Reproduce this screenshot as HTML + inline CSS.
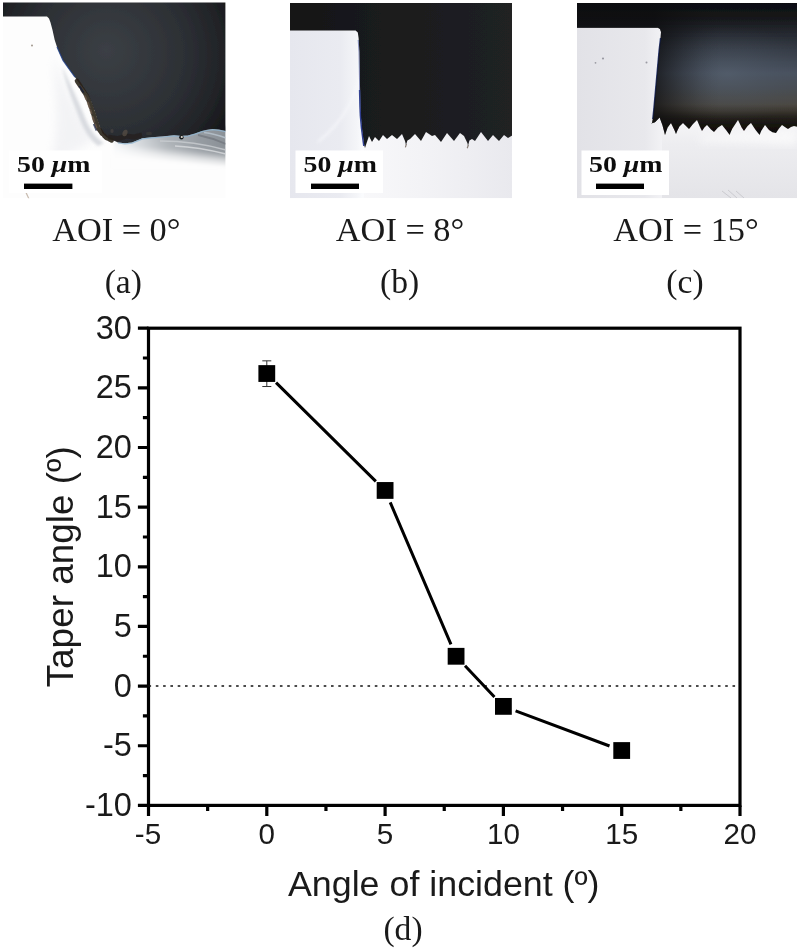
<!DOCTYPE html>
<html lang="en">
<head>
<meta charset="utf-8">
<title>Taper angle vs angle of incident</title>
<style>
  html, body { margin: 0; padding: 0; background: #ffffff; }
  body { width: 800px; height: 952px; overflow: hidden; position: relative; }
  svg { position: absolute; left: 0; top: 0; display: block; }
  .sans { font-family: "Liberation Sans", Arial, Helvetica, sans-serif; fill: #1a1a1a; }
  .serif { font-family: "Liberation Serif", "Times New Roman", Times, serif; fill: #1a1a1a; }
  .tick { font-size: 32.5px; }
  .title { font-size: 35.5px; }
  .cap { font-size: 33.6px; }
  .sb { font-family: "Liberation Serif", "Times New Roman", serif; font-weight: bold; font-size: 23px; fill: #111; }
</style>
</head>
<body>
<svg width="800" height="952" viewBox="0 0 800 952">
  <defs>
    <clipPath id="clipA"><rect x="3" y="2.6" width="222.4" height="195.6"/></clipPath>
    <clipPath id="clipB"><rect x="290" y="3" width="222" height="195.2"/></clipPath>
    <clipPath id="clipC"><rect x="577" y="3" width="220" height="195.2"/></clipPath>
    <filter id="soft" x="-5%" y="-5%" width="110%" height="110%"><feGaussianBlur stdDeviation="0.7"/></filter>
    <filter id="soft2" x="-10%" y="-10%" width="120%" height="120%"><feGaussianBlur stdDeviation="1.6"/></filter>
    <filter id="soft4" x="-20%" y="-20%" width="140%" height="140%"><feGaussianBlur stdDeviation="4"/></filter>
    <filter id="soft8" x="-30%" y="-30%" width="160%" height="160%"><feGaussianBlur stdDeviation="9"/></filter>
    <filter id="txtblur" x="-5%" y="-20%" width="110%" height="140%"><feGaussianBlur stdDeviation="0.45"/></filter>
    <radialGradient id="gA" gradientUnits="userSpaceOnUse" cx="112" cy="56" r="128" fx="106" fy="50">
      <stop offset="0" stop-color="#3b3f45"/>
      <stop offset="0.3" stop-color="#34383d"/>
      <stop offset="0.6" stop-color="#2c2f34"/>
      <stop offset="0.85" stop-color="#222428"/>
      <stop offset="1" stop-color="#18191c"/>
    </radialGradient>
    <linearGradient id="gAfloor" gradientUnits="userSpaceOnUse" x1="118" y1="0" x2="226" y2="0">
      <stop offset="0" stop-color="#eef1f4"/>
      <stop offset="0.2" stop-color="#d3d7db"/>
      <stop offset="0.45" stop-color="#aeb3b8"/>
      <stop offset="0.75" stop-color="#969ca2"/>
      <stop offset="1" stop-color="#8a9096"/>
    </linearGradient>
    <linearGradient id="gAfade" gradientUnits="userSpaceOnUse" x1="150" y1="139" x2="148" y2="160">
      <stop offset="0" stop-color="#fdfdfd" stop-opacity="0"/>
      <stop offset="0.35" stop-color="#fdfdfd" stop-opacity="0.1"/>
      <stop offset="0.7" stop-color="#fdfdfd" stop-opacity="0.7"/>
      <stop offset="1" stop-color="#fdfdfd" stop-opacity="1"/>
    </linearGradient>
    <linearGradient id="gB" gradientUnits="userSpaceOnUse" x1="290" y1="0" x2="512" y2="0">
      <stop offset="0" stop-color="#151517"/>
      <stop offset="0.5" stop-color="#1b1c1e"/>
      <stop offset="1" stop-color="#202123"/>
    </linearGradient>
    <linearGradient id="gBblock" gradientUnits="userSpaceOnUse" x1="290" y1="0" x2="362" y2="0">
      <stop offset="0" stop-color="#e6e7ee"/>
      <stop offset="0.7" stop-color="#eaebf1"/>
      <stop offset="0.93" stop-color="#f4f5f8"/>
      <stop offset="1" stop-color="#fafbfd"/>
    </linearGradient>
    <linearGradient id="gBfloor" gradientUnits="userSpaceOnUse" x1="360" y1="0" x2="512" y2="0">
      <stop offset="0" stop-color="#f8f8fa"/>
      <stop offset="0.4" stop-color="#f3f3f6"/>
      <stop offset="1" stop-color="#e9e9ee"/>
    </linearGradient>
    <linearGradient id="gC" gradientUnits="userSpaceOnUse" x1="0" y1="3" x2="0" y2="132">
      <stop offset="0.000" stop-color="#0e0f11"/>
      <stop offset="0.093" stop-color="#131417"/>
      <stop offset="0.209" stop-color="#22252b"/>
      <stop offset="0.357" stop-color="#343a44"/>
      <stop offset="0.543" stop-color="#495260"/>
      <stop offset="0.682" stop-color="#4a4d50"/>
      <stop offset="0.783" stop-color="#4c4943"/>
      <stop offset="0.845" stop-color="#38332c"/>
      <stop offset="0.891" stop-color="#23201b"/>
      <stop offset="0.946" stop-color="#151310"/>
      <stop offset="1.000" stop-color="#100e0c"/>
    </linearGradient>
    <radialGradient id="gCglow" gradientUnits="userSpaceOnUse" cx="728" cy="74" r="60" gradientTransform="translate(728 74) scale(1.5 0.8) translate(-728 -74)">
      <stop offset="0" stop-color="#56616f" stop-opacity="0.6"/>
      <stop offset="0.5" stop-color="#4d5764" stop-opacity="0.3"/>
      <stop offset="1" stop-color="#434b56" stop-opacity="0"/>
    </radialGradient>
    <linearGradient id="gCleft" gradientUnits="userSpaceOnUse" x1="654" y1="0" x2="720" y2="0">
      <stop offset="0" stop-color="#0c0c0e" stop-opacity="0.72"/>
      <stop offset="0.2" stop-color="#0c0c0e" stop-opacity="0.52"/>
      <stop offset="0.45" stop-color="#0c0c0e" stop-opacity="0.3"/>
      <stop offset="0.7" stop-color="#0c0c0e" stop-opacity="0.12"/>
      <stop offset="0.88" stop-color="#0c0c0e" stop-opacity="0.03"/>
      <stop offset="1" stop-color="#0c0c0e" stop-opacity="0"/>
    </linearGradient>
    <linearGradient id="gCblock" gradientUnits="userSpaceOnUse" x1="577" y1="0" x2="662" y2="0">
      <stop offset="0" stop-color="#e2e2e7"/>
      <stop offset="0.8" stop-color="#e8e8ec"/>
      <stop offset="1" stop-color="#f2f2f5"/>
    </linearGradient>
    <linearGradient id="gCfloor" gradientUnits="userSpaceOnUse" x1="0" y1="125" x2="0" y2="198">
      <stop offset="0" stop-color="#f4f4f6"/>
      <stop offset="0.25" stop-color="#ededf0"/>
      <stop offset="1" stop-color="#e4e4e8"/>
    </linearGradient>

  </defs>

  <!-- PANEL A -->
  <g id="panelA">
    <g clip-path="url(#clipA)">
      <rect x="3" y="2.6" width="223" height="195.6" fill="#fdfdfd"/>
      <!-- faint shading on the bright sidewall -->
      <path d="M54 56 C62 82 72 106 94 138 C84 148 68 156 50 160 C62 130 54 92 54 56Z" fill="#e6e7ec" opacity="0.45" filter="url(#soft4)"/>
      <path d="M62 66 C70 84 80 104 86 120 C90 130 96 138 104 143 L98 146 C90 140 84 130 80 120 C74 104 66 86 62 66Z" fill="#cdd0d7" opacity="0.75" filter="url(#soft2)"/>
      <!-- grey floor -->
      <g filter="url(#soft2)">
        <path d="M114 138 L135 137 L160 132 L194 129 L230 126 L230 166 L114 166Z" fill="url(#gAfloor)"/>
        <path d="M110 130 L232 122 L232 170 L110 170Z" fill="url(#gAfade)"/>
      </g>
      <g filter="url(#soft)" fill="none">
        <path d="M160 141 C185 141 205 144 226 150" stroke="#c9cdd1" stroke-width="1.6" opacity="0.8"/>
        <path d="M175 146 C195 147 210 150 226 154" stroke="#d9dcdf" stroke-width="1.4" opacity="0.8"/>
        <path d="M198 135 C208 137 217 140 226 144" stroke="#72777d" stroke-width="1.8" opacity="0.75"/>
        <path d="M204 132.5 C212 133.5 219 135.5 226 138" stroke="#b9c6d0" stroke-width="1.4" opacity="0.8"/>
      </g>
      <!-- dark trench -->
      <g filter="url(#soft)">
        <path d="M2 2 L227 2 L227 131.2 L219 129.6 L212.6 128.9 L207 129.8 L202 131 L195 133.4 L188 135.4 L180.6 135.8 L174 135.2 L163.5 136.3 L152 137.2 L142.5 138.2 L137 140.4 L132 142.4 L125 143.2 L118 142.4 L112 139.8 L106.5 137.2 L102.4 133.4 L100.4 128 L97.4 120 L94.6 111 L91.4 102 L88 95 L83.4 88.6 L78.6 82.4 L75 77.2 L69 69 L63 60.4 L59.5 53 L57 47 L54.7 40 L52.5 30 L50.5 22.5 L49 18.6 L47 16.6 L2 16.6Z" fill="url(#gA)"/>
        <!-- brownish debris along the slope / bottom -->
        <path d="M77 81 L82 88.6 L86.4 95.4 L89.6 102.6 L92.6 111.4 L95.4 120.4 L98.4 128.4 L102 133.6 L106.4 137.8 L111.6 140.4" fill="none" stroke="#2a221b" stroke-width="4.6" stroke-linecap="round" stroke-dasharray="7 2.5 4 1.5 9 2" opacity="0.9"/>
        <path d="M85 96.4 L88.2 103.4 L91 111.8 L93.8 120.6 L96.6 128" fill="none" stroke="#6b5a48" stroke-width="2" stroke-linecap="round" stroke-dasharray="3 4 5 3" opacity="0.75"/>
        <path d="M79.4 86 L83.6 92.6 M93.6 124 L96.4 130.6" fill="none" stroke="#0f1a3a" stroke-width="1.6" opacity="0.7"/>
        <path d="M108 137 L118 138.6 L126 136 L134 137 L142 135" fill="none" stroke="#24221f" stroke-width="5" opacity="0.75"/>
        <ellipse cx="125" cy="133" rx="2.4" ry="3.4" fill="#5a5046" opacity="0.7" transform="rotate(20 125 133)"/>
        <ellipse cx="112" cy="131" rx="1.6" ry="2" fill="#4f4a44" opacity="0.6"/>
        <ellipse cx="149" cy="133.4" rx="3" ry="1.6" fill="#3e3c3a" opacity="0.6"/>
        <path d="M118 143 L125 143.9 L132 143.1 L137 141.1 L142.5 138.9 L152 137.9 L163.5 137 L174 135.9 L180.6 136.5 L188 136.1 L195 134.1 L202 131.7 L207 130.5 L212.6 129.6 L219 130.3 L227 131.9" fill="none" stroke="#8fb4cf" stroke-width="1.2" opacity="0.8"/>
        <path d="M57 47 L63 60.4 L69 69 L75 77.2" fill="none" stroke="#1f3f8a" stroke-width="1.2" opacity="0.8"/>
        <circle cx="181.4" cy="137.2" r="2.2" fill="#191a1c"/>
        <circle cx="181.8" cy="137" r="1.1" fill="#e6e1d8"/>
      </g>
      <!-- specks -->
      <circle cx="32" cy="45.5" r="1" fill="#8a7d72" opacity="0.8"/>
      <path d="M26 192.5 L29 199" stroke="#b9a99a" stroke-width="1.2" opacity="0.8"/>
      <!-- scale bar -->
      <rect x="9" y="150.5" width="93" height="42.5" fill="#ffffff"/>
      <g filter="url(#txtblur)">
        <text class="sb" x="17" y="172.2" textLength="73.5" lengthAdjust="spacingAndGlyphs">50 <tspan font-style="italic">μ</tspan>m</text>
        <rect x="24" y="183.6" width="48.4" height="5.4" fill="#050505"/>
      </g>
    </g>

  </g>

  <!-- PANEL B -->
  <g id="panelB">
    <g clip-path="url(#clipB)">
      <rect x="290" y="3" width="222" height="195.2" fill="url(#gBfloor)"/>
      <rect x="290" y="3" width="74" height="195.2" fill="url(#gBblock)"/>
      <!-- faint curved highlight inside the block -->
      <path d="M364 60 C358 95 345 120 318 142" fill="none" stroke="#f7f8fb" stroke-width="2.2" opacity="0.8" filter="url(#soft2)"/>
      <g filter="url(#soft)">
        <!-- dark trench -->
        <path d="M289 2 L513 2 L513 135 L513.0 135.0 L508.0 138.0 L504.0 135.0 L499.0 141.0 L493.0 135.0 L488.0 141.0 L481.0 132.0 L475.0 141.0 L472.0 139.0 L469.4 140.6 L468.0 146.0 L467.4 143.0 L464.0 136.0 L460.0 133.0 L454.0 141.0 L447.0 133.0 L441.0 142.0 L435.0 135.0 L432.0 136.0 L426.0 132.0 L421.0 141.0 L415.0 134.0 L410.0 139.0 L407.4 140.6 L406.0 145.0 L405.0 141.0 L402.0 134.0 L397.0 139.0 L392.0 135.0 L387.0 139.0 L383.0 135.0 L379.0 141.0 L375.0 137.0 L372.0 142.0 L369.0 136.0 L366.6 143.0 L365.0 148.0 L364.2 145 L363 137 L361.8 127.5 L360.8 116 L360.4 107 L359.9 80 L359.4 52 L358.6 38 L357.8 32.6 L355.6 30.6 L289 30.6Z" fill="url(#gB)"/>
        <!-- blue fringe along the wall -->
        <path d="M359.6 90 L360 107 L360.4 116 L361.4 127.5 L362.6 137 L363.8 146" fill="none" stroke="#1d2f86" stroke-width="1.5" opacity="0.9"/><path d="M358.2 40 L359 52 L359.5 80 L359.6 90" fill="none" stroke="#1d2f86" stroke-width="1" opacity="0.5"/>
        <path d="M406.4 144 L405.4 147.4 M468.4 145 L467.2 148.2" stroke="#5a4a40" stroke-width="1.2" opacity="0.7"/>
      </g>
      <!-- scale bar -->
      <rect x="295.5" y="150.5" width="87.5" height="42.5" fill="#ffffff"/>
      <g filter="url(#txtblur)">
        <text class="sb" x="303.5" y="172.2" textLength="73.5" lengthAdjust="spacingAndGlyphs">50 <tspan font-style="italic">μ</tspan>m</text>
        <rect x="311" y="183.6" width="48" height="5.4" fill="#050505"/>
      </g>
    </g>

  </g>

  <!-- PANEL C -->
  <g id="panelC">
    <g clip-path="url(#clipC)">
      <rect x="577" y="3" width="220" height="195.2" fill="url(#gCfloor)"/>
      <rect x="577" y="3" width="85" height="195.2" fill="url(#gCblock)"/>
      <path d="M700 137 C730 133 765 131 797 131 L797 146 C765 143 730 142 700 142Z" fill="#fdfdfd" opacity="0.7" filter="url(#soft4)"/>
      <g filter="url(#soft)">
        <path id="trenchC" d="M576 2 L798 2 L798 127 L798.0 127.0 L794.0 126.0 L791.0 127.0 L788.0 129.0 L785.6 127.6 L782.0 125.0 L779.0 128.6 L776.0 133.0 L772.4 132.2 L769.0 130.0 L765.0 125.0 L761.2 131.0 L759.6 135.0 L758.4 133.6 L755.6 130.0 L751.0 123.0 L747.6 126.0 L744.0 131.0 L741.6 127.4 L738.0 120.0 L732.4 128.6 L730.8 132.0 L729.6 135.0 L728.6 133.4 L726.0 130.0 L722.0 125.0 L718.0 127.4 L714.0 132.0 L711.0 129.4 L707.0 125.0 L704.4 127.4 L702.0 131.0 L700.0 127.0 L697.0 120.0 L693.0 124.0 L689.0 129.0 L683.0 123.0 L679.4 126.6 L677.4 130.6 L676.0 134.0 L674.4 130.0 L671.0 123.0 L667.6 127.4 L666.0 132.0 L665.0 135.0 L664.4 132.6 L662.4 125.0 L659.6 117.4 L655.0 122.2 L651.0 123.4 L652 123.4 L652.8 119 L653.8 110 L655.6 90 L657.4 70 L659.2 50 L660.6 38 L661 32 L660 29 L657.8 27.8 L576 27.8Z" fill="url(#gC)"/>
        <path d="M652.8 119 L653.8 110 L655.6 90 L657.4 70 L659.2 50 L660.6 38" fill="none" stroke="#14235e" stroke-width="1.5" opacity="0.9"/>
      </g>
      <clipPath id="clipCt"><use href="#trenchC"/></clipPath>
      <g clip-path="url(#clipCt)">
        <rect x="640" y="20" width="160" height="110" fill="url(#gCglow)"/>
        <rect x="570" y="2" width="155" height="140" fill="url(#gCleft)"/>
      </g>
      <!-- specks -->
      <circle cx="603" cy="58.5" r="1.1" fill="#9a9aa2"/>
      <circle cx="595.5" cy="62.8" r="0.9" fill="#9a9aa2"/>
      <circle cx="646.5" cy="62.5" r="1" fill="#9a9aa2"/>
      <circle cx="646" cy="18" r="0" fill="none"/>
      <path d="M722 191 L731 198 M728 190 L737 198 M736 191 L744 198" stroke="#bdbdc2" stroke-width="0.8" opacity="0.8"/>
      <!-- scale bar -->
      <rect x="581.5" y="150.5" width="87.5" height="44.5" fill="#ffffff"/>
      <g filter="url(#txtblur)">
        <text class="sb" x="589" y="172.2" textLength="73.5" lengthAdjust="spacingAndGlyphs">50 <tspan font-style="italic">μ</tspan>m</text>
        <rect x="596" y="183.6" width="48" height="5.4" fill="#050505"/>
      </g>
    </g>

  </g>

  <!-- LABELS -->
  <g class="serif cap" text-anchor="middle">
    <text x="116.3" y="241.2" style="font-size:34.3px">AOI = 0°</text>
    <text x="400" y="241.2" style="font-size:34.3px">AOI = 8°</text>
    <text x="686" y="241.2" style="font-size:34.3px">AOI = 15°</text>
    <text x="123.3" y="293">(a)</text>
    <text x="399.6" y="293">(b)</text>
    <text x="685" y="293">(c)</text>
    <text x="403" y="940">(d)</text>
  </g>

  <!-- PLOT -->
  <g id="plot">
    <rect x="148.5" y="328.2" width="591.5" height="477.2" fill="none" stroke="#000" stroke-width="3.2"/>
    <path d="M148.5 328.2h-10.6M148.5 387.85h-10.6M148.5 447.5h-10.6M148.5 507.15h-10.6M148.5 566.8h-10.6M148.5 626.45h-10.6M148.5 686.1h-10.6M148.5 745.75h-10.6M148.5 805.4h-10.6M148.5 358.02h-5.6M148.5 417.67h-5.6M148.5 477.32h-5.6M148.5 536.98h-5.6M148.5 596.62h-5.6M148.5 656.27h-5.6M148.5 715.92h-5.6M148.5 775.58h-5.6M148.5 805.4v10.6M266.8 805.4v10.6M385.1 805.4v10.6M503.4 805.4v10.6M621.7 805.4v10.6M740 805.4v10.6M207.65 805.4v5.6M325.95 805.4v5.6M444.25 805.4v5.6M562.55 805.4v5.6M680.85 805.4v5.6" stroke="#000" stroke-width="3.2" fill="none"/>
    <line x1="148.5" y1="686.1" x2="740" y2="686.1" stroke="#111" stroke-width="1.5" stroke-dasharray="2.6 4.7"/>
    <path d="M276.05 382.67L375.85 481.31M390.22 502.4L450.96 644.32M465.01 665.73L494.47 696.93M515.58 710.93L609.52 745.98" stroke="#000" stroke-width="3" fill="none"/>
    <path d="M266.8 360.83V386.53M262.3 360.83h9M262.3 386.53h9" stroke="#333" stroke-width="1" fill="none"/>
    <rect x="258.4" y="365.13" width="16.8" height="16.8" fill="#000"/>
    <rect x="376.7" y="482.05" width="16.8" height="16.8" fill="#000"/>
    <rect x="447.68" y="647.88" width="16.8" height="16.8" fill="#000"/>
    <rect x="495" y="697.98" width="16.8" height="16.8" fill="#000"/>
    <rect x="613.3" y="742.12" width="16.8" height="16.8" fill="#000"/>
    <g class="sans tick"><text x="131.9" y="338.8" text-anchor="end">30</text><text x="131.9" y="398.45" text-anchor="end">25</text><text x="131.9" y="458.1" text-anchor="end">20</text><text x="131.9" y="517.75" text-anchor="end">15</text><text x="131.9" y="577.4" text-anchor="end">10</text><text x="131.9" y="637.05" text-anchor="end">5</text><text x="131.9" y="696.7" text-anchor="end">0</text><text x="131.9" y="756.35" text-anchor="end">-5</text><text x="131.9" y="816" text-anchor="end">-10</text><text x="148" y="844.2" text-anchor="middle" style="font-size:29.6px">-5</text><text x="266.8" y="844.2" text-anchor="middle" style="font-size:29.6px">0</text><text x="385.1" y="844.2" text-anchor="middle" style="font-size:29.6px">5</text><text x="503.4" y="844.2" text-anchor="middle" style="font-size:29.6px">10</text><text x="621.7" y="844.2" text-anchor="middle" style="font-size:29.6px">15</text><text x="740" y="844.2" text-anchor="middle" style="font-size:29.6px">20</text></g>
    <text class="sans title" style="font-size:35.8px" x="443.75" y="896.3" text-anchor="middle">Angle of incident (º)</text>
    <text class="sans title" style="font-size:36.9px" transform="translate(72.6 566.8) rotate(-90)" text-anchor="middle">Taper angle (º)</text>
  </g>
</svg>
</body>
</html>
